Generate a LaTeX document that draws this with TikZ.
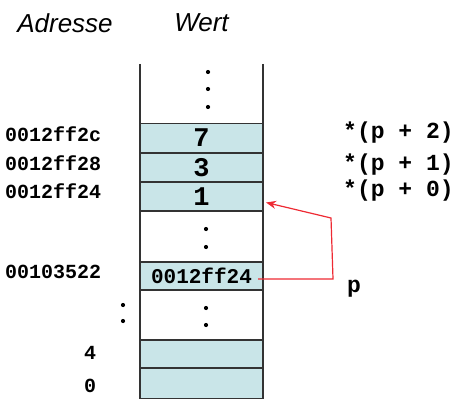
\documentclass[tikz,border=0pt]{standalone}
\usepackage{fontspec}
\setmainfont{Liberation Sans}
\newfontfamily\codefont{Liberation Mono}
\usepackage{xcolor}
\usepackage{tikz}
\usetikzlibrary{arrows.meta}
\definecolor{cellblue}{HTML}{C9E5E8}
\definecolor{ptrred}{HTML}{EE2A33}

\begin{document}
\begin{tikzpicture}[x=1pt,y=-1pt,
        cell/.style={draw=black!80, line width=1.2pt, fill=cellblue,
            minimum width=123pt, minimum height=29pt, inner sep=0pt, outer sep=0pt},
        wall/.style={draw=black!80, line width=1.2pt},
        addr/.style={anchor=base west, inner sep=0pt,
            font=\codefont\bfseries\fontsize{20}{20}\selectfont},
        deref/.style={anchor=base west, inner sep=0pt,
            font=\codefont\bfseries\fontsize{23}{23}\selectfont},
        head/.style={font=\itshape\fontsize{26}{26}\selectfont, inner sep=0pt},
        ptr/.style={draw=ptrred, line width=1.2pt, -{Stealth[length=10pt,width=8pt]}}]
                \useasboundingbox (0,0) rectangle (454,398);
                
                % headings
                \node[head] (hadr) at (65,23) {Adresse};
                \node[head] (hval) at (201.5,23) {Wert};
                
                % column walls
                \draw[wall] (140,64) -- (140,402);
                \draw[wall] (263,64) -- (263,402);
                
                % memory cells
                \node[cell, font=\codefont\bfseries\fontsize{27}{27}\selectfont] (c2) at (201.5,138) {7};
                \node[cell, font=\codefont\bfseries\fontsize{27}{27}\selectfont] (c1) at (201.5,167.5) {3};
                \node[cell, font=\codefont\bfseries\fontsize{27}{27}\selectfont] (c0) at (201.5,196.5) {1};
                \node[cell, minimum height=28pt, font=\codefont\bfseries\fontsize{21}{21}\selectfont] (cp) at (201.5,276) {0012ff24};
                \node[cell, minimum height=28pt] (c4) at (201.5,354) {};
                \node[cell, minimum height=30pt] (cz) at (201.5,383.5) {};
                
                % dots
                \foreach \y in {72,89,107} \fill (208,\y) circle (2.1pt);
                \foreach \y in {229,247,308,325} \fill (206,\y) circle (2.1pt);
                \foreach \y in {305,321} \fill (123,\y) circle (2.1pt);
                
                % addresses
                \node[addr] (a2) at (5,142) {0012ff2c};
                \node[addr] (a1) at (5,170) {0012ff28};
                \node[addr] (a0) at (5,198) {0012ff24};
                \node[addr] (ap) at (5,278) {00103522};
                \node[addr, anchor=center] (a4) at (90,353) {4};
                \node[addr, anchor=center] (az) at (90,386) {0};
                
                % dereferences
                \node[deref] (d2) at (343,139) {*(p + 2)};
                \node[deref] (d1) at (343,170) {*(p + 1)};
                \node[deref] (d0) at (343,196) {*(p + 0)};
                \node[deref, anchor=base] (pname) at (354,292) {p};
                
                % pointer
                \coordinate (k1) at (333,279);
                \coordinate (k2) at (331,218);
                \draw[ptr] ([xshift=-5pt,yshift=-3pt]cp.east) -- (k1) -- (k2) -- ([xshift=3pt,yshift=-6pt]c0.east);
\end{tikzpicture}
\end{document}
